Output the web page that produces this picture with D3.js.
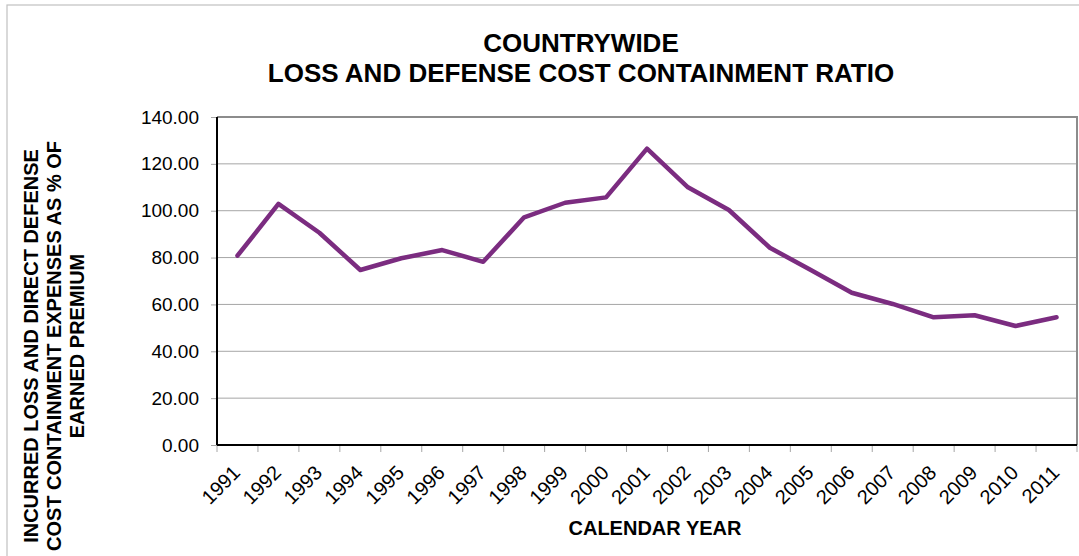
<!DOCTYPE html>
<html><head><meta charset="utf-8">
<script src="https://cdn.jsdelivr.net/npm/d3@7"></script>
<style>body{margin:0;background:#fff}svg{display:block}text{font-family:"Liberation Sans",Arial,sans-serif}</style>
</head><body>
<svg id="c" width="1079" height="556"></svg>
<script>
const years = ["1991","1992","1993","1994","1995","1996","1997","1998","1999","2000","2001","2002","2003","2004","2005","2006","2007","2008","2009","2010","2011"];
const ratios = [80.8,102.9,90.6,74.7,79.7,83.2,78.2,97.2,103.4,105.7,126.5,110.0,100.3,84.2,74.7,65.0,60.2,54.5,55.4,50.8,54.5];
const yTicks = [0,20,40,60,80,100,120,140];
const titleLines = ["COUNTRYWIDE","LOSS AND DEFENSE COST CONTAINMENT RATIO"];
const yTitleLines = ["INCURRED LOSS AND DIRECT DEFENSE","COST CONTAINMENT EXPENSES AS % OF","EARNED PREMIUM"];
const xTitle = "CALENDAR YEAR";

const svg = d3.select("#c");
const L=217,R=1077,T=117,B=445;
const x = d3.scaleBand().domain(years).range([L,R]).padding(0);
const y = d3.scaleLinear().domain([0,140]).range([B,T]);

// outer chart border
svg.append("rect").attr("x",7).attr("y",5).attr("width",1090).attr("height",600)
  .attr("fill","none").attr("stroke","#c0c0c0").attr("stroke-width",1.2);

// gridlines
svg.append("g").selectAll("line").data(yTicks.filter(d=>d>0 && d<140)).join("line")
  .attr("x1",L).attr("x2",R).attr("y1",d=>y(d)).attr("y2",d=>y(d))
  .attr("stroke","#a6a6a6").attr("stroke-width",1);

// plot frame top/right
svg.append("path").attr("d",`M${L},${T}H${R}V${B}`).attr("fill","none")
  .attr("stroke","#8c8c8c").attr("stroke-width",2);

// y axis
const ya = svg.append("g").attr("transform",`translate(${L},0)`)
  .call(d3.axisLeft(y).tickValues(yTicks).tickSize(6).tickPadding(12).tickFormat(d3.format(".2f")));
ya.select(".domain").remove();
ya.selectAll(".tick line").attr("stroke","#a6a6a6");
ya.selectAll(".tick text").attr("font-size",19).attr("fill","#000").attr("font-family","Liberation Sans, Arial, sans-serif");

// x axis ticks at boundaries
const bounds = years.map(d=>x(d)).concat([R]);
svg.append("g").selectAll("line").data(bounds).join("line")
  .attr("x1",d=>d).attr("x2",d=>d).attr("y1",B).attr("y2",B+7)
  .attr("stroke","#a6a6a6").attr("stroke-width",1);

// axes lines
svg.append("line").attr("x1",L).attr("x2",L).attr("y1",T).attr("y2",B).attr("stroke","#000").attr("stroke-width",2);
svg.append("line").attr("x1",L).attr("x2",R).attr("y1",B).attr("y2",B).attr("stroke","#000").attr("stroke-width",2);

// x labels
svg.append("g").selectAll("text").data(years).join("text")
  .attr("transform",d=>`translate(${x(d)+x.bandwidth()/2+4},${B+29}) rotate(-45)`)
  .attr("text-anchor","end").attr("font-size",20).attr("fill","#000").text(d=>d);

// line
const line = d3.line().x((d,i)=>x(years[i])+x.bandwidth()/2).y(d=>y(d));
svg.append("path").datum(ratios).attr("d",line).attr("fill","none")
  .attr("stroke","#7B2C80").attr("stroke-width",4.5).attr("stroke-linejoin","round").attr("stroke-linecap","round");

// title
svg.append("g").selectAll("text").data(titleLines).join("text")
  .attr("x",581).attr("y",(d,i)=>52+i*30).attr("text-anchor","middle")
  .attr("font-size",26).attr("font-weight","bold").attr("fill","#000").text(d=>d);

// y title
svg.append("g").attr("transform","translate(0,346)").selectAll("text").data(yTitleLines).join("text")
  .attr("transform",(d,i)=>`translate(${38+i*23},0) rotate(-90)`)
  .attr("text-anchor","middle").attr("font-size",20).attr("font-weight","bold").attr("fill","#000").text(d=>d);

// x title
svg.append("text").attr("x",655).attr("y",535).attr("text-anchor","middle")
  .attr("font-size",20).attr("font-weight","bold").attr("fill","#000").text(xTitle);
</script>
</body></html>
